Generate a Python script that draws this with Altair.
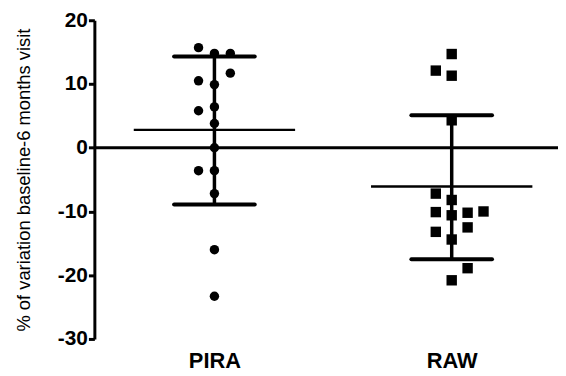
import altair as alt
import pandas as pd

groups = ["PIRA", "RAW"]
group_pos = [1, 2]

pira_values = [15.7, 14.8, 14.8, 11.7, 10.5, 9.9, 5.8, 6.4, 3.8, 0.0, -3.6, -3.6, -7.2, -16.0, -23.3]
pira_cols = [-1, 0, 1, 1, -1, 0, -1, 0, 0, 0, -1, 0, 0, 0, 0]

raw_values = [14.7, 12.1, 11.3, 4.3, -7.2, -8.2, -10.1, -10.6, -10.2, -10.0, -12.5, -13.2, -14.4, -18.9, -20.8]
raw_cols = [0, -1, 0, 0, -1, 0, -1, 0, 1, 2, 1, -1, 0, 1, 0]

means = [2.8, -6.1]
sd_upper = [14.3, 5.1]
sd_lower = [-8.9, -17.5]

y_ticks = [-30, -20, -10, 0, 10, 20]

COL_STEP = 0.067
CAP_HALF = 0.17
MEAN_HALF = 0.34
X_DOMAIN = [0.494, 2.448]

rows = []
for v, c in zip(pira_values, pira_cols):
    rows.append({"group": "PIRA", "x": group_pos[0] + c * COL_STEP, "value": v})
for v, c in zip(raw_values, raw_cols):
    rows.append({"group": "RAW", "x": group_pos[1] + c * COL_STEP, "value": v})
pts = pd.DataFrame(rows)

stats = pd.DataFrame({
    "group": groups, "pos": group_pos, "mean": means,
    "upper": sd_upper, "lower": sd_lower,
})
stats["cap_l"] = stats["pos"] - CAP_HALF
stats["cap_r"] = stats["pos"] + CAP_HALF
stats["mean_l"] = stats["pos"] - MEAN_HALF
stats["mean_r"] = stats["pos"] + MEAN_HALF

xscale = alt.Scale(domain=X_DOMAIN, nice=False, zero=False)
yscale = alt.Scale(domain=[-30, 20], nice=False)

font = "Liberation Sans"

xaxis = alt.Axis(
    values=group_pos, title=None, domain=False, ticks=False, grid=False,
    labelExpr="datum.value == 1 ? 'PIRA' : 'RAW'",
    labelFont=font, labelFontSize=22, labelFontWeight="bold", labelColor="black",
    labelPadding=12,
)
yaxis = alt.Axis(
    values=y_ticks, title="% of variation baseline-6 months visit",
    labelExpr="toString(datum.value)",
    grid=False, domainWidth=3, domainColor="black", tickWidth=3, tickSize=6,
    tickColor="black", labelFont=font, labelFontSize=21, labelFontWeight="bold",
    labelColor="black", labelPadding=1, titleFont=font, titleFontSize=18.5,
    titleFontWeight="normal", titleColor="black", titlePadding=24,
)

X = lambda f: alt.X(f, scale=xscale, axis=xaxis)
Y = lambda f: alt.Y(f, scale=yscale, axis=yaxis)

zero = alt.Chart(pd.DataFrame({"y": [0]})).mark_rule(color="black", strokeWidth=3).encode(
    y=Y("y:Q"),
    x=alt.value(0),
    x2=alt.value(467),
)

circles = alt.Chart(pts[pts.group == "PIRA"]).mark_point(
    shape="circle", filled=True, size=90, color="black", opacity=1
).encode(x=X("x:Q"), y=Y("value:Q"))
squares = alt.Chart(pts[pts.group == "RAW"]).mark_point(
    shape="square", filled=True, size=110, color="black", opacity=1
).encode(x=X("x:Q"), y=Y("value:Q"))

base = alt.Chart(stats)
vline = base.mark_rule(color="black", strokeWidth=3.5).encode(
    x=X("pos:Q"), y=Y("lower:Q"), y2="upper:Q"
)
cap_u = base.mark_rule(color="black", strokeWidth=4, strokeCap="round").encode(
    x=X("cap_l:Q"), x2="cap_r:Q", y=Y("upper:Q")
)
cap_l = base.mark_rule(color="black", strokeWidth=4, strokeCap="round").encode(
    x=X("cap_l:Q"), x2="cap_r:Q", y=Y("lower:Q")
)
mean_line = base.mark_rule(color="black", strokeWidth=2.5).encode(
    x=X("mean_l:Q"), x2="mean_r:Q", y=Y("mean:Q")
)

chart = alt.layer(zero, circles, squares, vline, cap_u, cap_l, mean_line).properties(
    width=467, height=321,
    autosize=alt.AutoSizeParams(type="none"),
    padding={"left": 87, "top": 11, "right": 0, "bottom": 36},
    background="white",
).configure_view(strokeWidth=0, stroke="transparent")

chart.save("out.html", embed_options={"renderer": "svg", "actions": False})
